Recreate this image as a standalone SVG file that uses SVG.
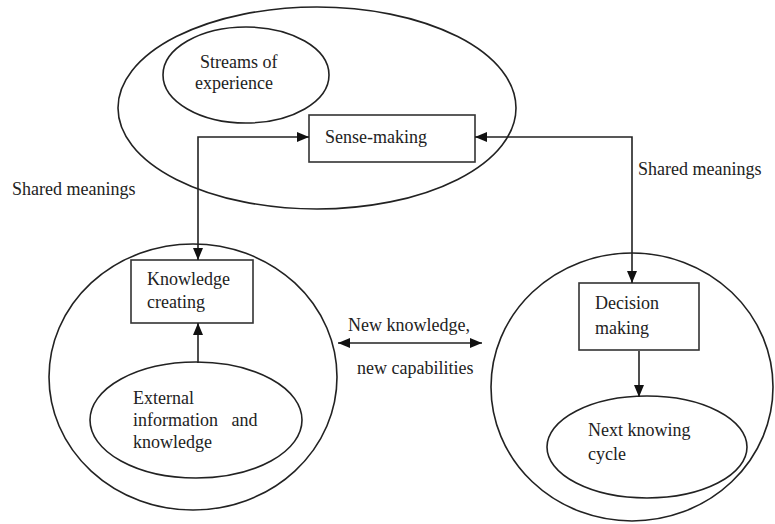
<svg xmlns="http://www.w3.org/2000/svg" width="775" height="524" viewBox="0 0 775 524">
<style>
.s{fill:none;stroke:#222;stroke-width:1.6}
.b{fill:#fff;stroke:#333;stroke-width:1.6}
text{font-family:"Liberation Serif","Times New Roman",serif;font-size:18px;fill:#222}
.c{fill:none;stroke:#222;stroke-width:1.6}
</style>
<defs>
<marker id="ah" viewBox="0 0 12 10" refX="12" refY="5" markerWidth="12" markerHeight="10" markerUnits="userSpaceOnUse" orient="auto-start-reverse">
<path d="M0,0 L12,5 L0,10 z" fill="#111"/>
</marker>
</defs>
<rect width="775" height="524" fill="#fff"/>
<g id="top-circle"><ellipse class="s" cx="317" cy="108" rx="199" ry="101"/></g>
<g id="streams"><ellipse class="s" cx="246" cy="75" rx="83" ry="48"/><text x="200" y="68">Streams of</text><text x="195" y="89">experience</text></g>
<g id="sense-making"><rect class="b" x="309" y="115" width="166" height="47"/><text x="325" y="143">Sense-making</text></g>
<g id="left-circle"><ellipse class="s" cx="193" cy="377" rx="144" ry="133"/></g>
<g id="knowledge-creating"><rect class="b" x="131" y="260" width="122" height="63"/><text x="147" y="285">Knowledge</text><text x="147" y="308">creating</text></g>
<g id="external"><ellipse class="s" cx="196" cy="420" rx="106" ry="58"/><text x="133" y="404">External</text><text x="133" y="426" xml:space="preserve">information   and</text><text x="133" y="448">knowledge</text></g>
<g id="right-circle"><ellipse class="s" cx="632" cy="387" rx="141" ry="134"/></g>
<g id="decision"><rect class="b" x="579" y="283" width="120" height="67"/><text x="595" y="309">Decision</text><text x="595" y="334">making</text></g>
<g id="next-cycle"><ellipse class="s" cx="647" cy="447" rx="100" ry="51"/><text x="588" y="436">Next knowing</text><text x="588" y="460">cycle</text></g>
<g id="labels">
<text x="12" y="195">Shared meanings</text>
<text x="638" y="175">Shared meanings</text>
<text x="348" y="331">New knowledge,</text>
<text x="357" y="374">new capabilities</text>
</g>
<g id="connectors">
<path class="c" d="M198,260 L198,137 L309,137" marker-start="url(#ah)" marker-end="url(#ah)"/>
<path class="c" d="M475,137 L632,137 L632,283" marker-start="url(#ah)" marker-end="url(#ah)"/>
<path class="c" d="M198,363 L198,323" marker-end="url(#ah)"/>
<path class="c" d="M639,351 L639,397" marker-end="url(#ah)"/>
<path class="c" d="M338,343 L482,343" marker-start="url(#ah)" marker-end="url(#ah)"/>
</g>
</svg>
